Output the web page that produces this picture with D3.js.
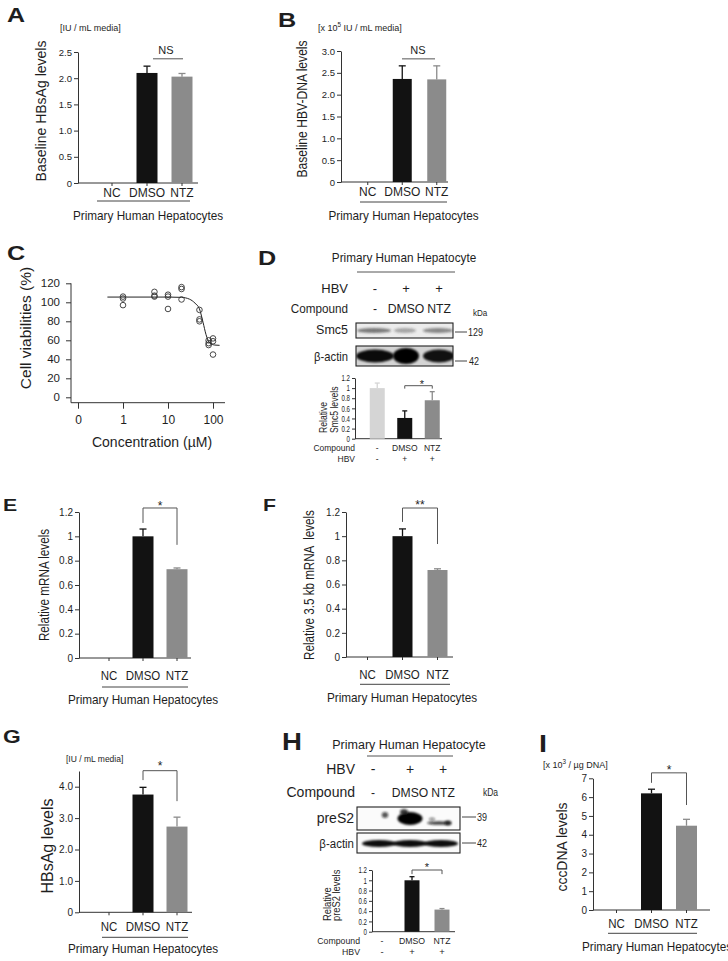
<!DOCTYPE html>
<html><head><meta charset="utf-8">
<script src="https://cdn.jsdelivr.net/npm/d3@7"></script>
<style>
body{margin:0;background:#fff}
svg text{font-family:"Liberation Sans",Arial,Helvetica,sans-serif;fill:#1e1e1e}
</style>
</head><body>
<svg id="fig" width="728" height="961"></svg>
<script>
// ---------------- DATA ----------------
const groups = ["NC", "DMSO", "NTZ"];
const hbsagBaseline = [0, 2.10, 2.03];
const hbsagBaselineErr = [0, 0.13, 0.06];
const hbvDnaBaseline = [0, 2.36, 2.35];
const hbvDnaBaselineErr = [0, 0.30, 0.31];
const concentrations = [1, 5, 10, 20, 50, 80, 100];
const viabilityReplicates = [[106, 104, 97], [111, 107, 106], [108, 106, 93], [116, 114, 103], [92, 82, 80], [60, 57, 55], [62, 59, 45]];
const fitConc = [0.45, 10, 20, 30, 40, 50, 60, 70, 85, 110, 140];
const fitViability = [105.5, 105.5, 105.2, 103.3, 99, 93, 79, 66, 57, 55, 54.7];
const concTicks = [0.1, 1, 10, 100];
const concTickLabels = ["0", "1", "10", "100"];
const viabilityTicks = [0, 20, 40, 60, 80, 100, 120];
const compoundLanes = ["-", "DMSO", "NTZ"];
const hbvLanes = ["-", "+", "+"];
const smc5Rel = [1.0, 0.41, 0.76];
const smc5RelErr = [0.10, 0.14, 0.17];
const smc5Band = [0.62, 0.38, 0.55];
const actinBandD = [0.95, 1.0, 0.92];
const mrnaRel = [0, 1.0, 0.73];
const mrnaRelErr = [0, 0.06, 0.01];
const pgrnaRel = [0, 1.0, 0.72];
const pgrnaRelErr = [0, 0.06, 0.01];
const hbsag = [0, 3.75, 2.73];
const hbsagErr = [0, 0.23, 0.30];
const preS2Rel = [0, 1.0, 0.43];
const preS2RelErr = [0, 0.07, 0.02];
const preS2Band = [0.7, 1.0, 0.8];
const actinBandH = [0.95, 0.95, 0.95];
const cccdna = [0, 6.2, 4.48];
const cccdnaErr = [0, 0.22, 0.34];
const relTicks = [0, 0.2, 0.4, 0.6, 0.8, 1, 1.2];

// ---------------- HELPERS ----------------
const svg = d3.select("#fig");
const defs = svg.append("defs");
function addBlur(id, sd) {
  defs.append("filter").attr("id", id).attr("x", "-50%").attr("y", "-80%").attr("width", "200%").attr("height", "260%")
    .append("feGaussianBlur").attr("stdDeviation", sd);
}
addBlur("blur1", 1.2); addBlur("blur2", 2.0);

function txt(x, y, s, o = {}) {
  let tr = `translate(${x},${y})`;
  if (o.rot) tr += ` rotate(${o.rot})`;
  if (o.sx && o.sx !== 1) tr += ` scale(${o.sx},1)`;
  const t = svg.append("text").attr("transform", tr)
    .attr("text-anchor", o.anchor || "middle")
    .attr("font-size", o.size || 12);
  if (o.weight) t.attr("font-weight", o.weight);
  if (o.pre) t.style("white-space", "pre");
  t.text(s);
  return t;
}
function unitText(x, y, parts, size) {
  const t = svg.append("text").attr("x", x).attr("y", y).attr("font-size", size).attr("text-anchor", "start");
  parts.forEach(p => {
    const ts = t.append("tspan").text(p.t);
    if (p.sup) ts.attr("font-size", size * 0.7).attr("dy", -size * 0.4);
    if (p.down) ts.attr("dy", size * 0.4);
  });
}
function line(x1, y1, x2, y2, col = "#333", w = 1) {
  svg.append("line").attr("x1", x1).attr("y1", y1).attr("x2", x2).attr("y2", y2).attr("stroke", col).attr("stroke-width", w);
}
const fmt1 = d => d === 0 ? "0" : d3.format(".1f")(d);
const fmtRel = d => String(+d.toFixed(1));

function barChart(o) {
  const g = svg.append("g");
  const step = (o.band[1] - o.band[0]) / o.cats.length;
  const pad = 1 - o.bw / step;
  const x = d3.scaleBand().domain(o.cats).range(o.band).paddingInner(pad).paddingOuter(pad / 2);
  const y = d3.scaleLinear().domain(o.yDomain).range(o.yRange);
  const tl = o.tickLen || 4, tp = o.tickPad || 2;
  const yg = g.append("g").attr("transform", `translate(${o.axisX},0)`)
    .call(d3.axisLeft(y).tickValues(o.yTicks).tickFormat(o.fmt).tickSize(tl).tickSizeOuter(0).tickPadding(tp));
  yg.select(".domain").attr("stroke", "#333");
  yg.selectAll(".tick line").attr("stroke", "#333");
  yg.selectAll(".tick text").attr("font-size", o.tickFont).attr("fill", "#222");
  if (o.tickSx) {
    yg.selectAll(".tick text").each(function () {
      const t = d3.select(this); const xx = +t.attr("x");
      t.attr("x", null).attr("transform", `translate(${xx},0) scale(${o.tickSx},1)`);
    });
  }
  const y0 = y(0);
  g.append("line").attr("x1", o.axisX).attr("x2", o.xEnd).attr("y1", y0).attr("y2", y0).attr("stroke", "#333");
  const cx = c => x(c) + x.bandwidth() / 2;
  if (o.catTicks) {
    o.cats.forEach(c => g.append("line").attr("x1", cx(c)).attr("x2", cx(c)).attr("y1", y0).attr("y2", y0 + 3).attr("stroke", "#333"));
  }
  const rows = o.cats.map((c, i) => ({ c, v: o.vals[i], e: o.errs[i], col: o.colors[i] }));
  g.selectAll("rect.bar").data(rows.filter(d => d.v > 0)).join("rect").attr("class", "bar")
    .attr("x", d => x(d.c)).attr("width", x.bandwidth())
    .attr("y", d => y(d.v)).attr("height", d => y0 - y(d.v)).attr("fill", d => d.col);
  const cap = o.cap || 7;
  rows.filter(d => d.e > 0).forEach(d => {
    const c = cx(d.c);
    g.append("line").attr("x1", c).attr("x2", c).attr("y1", y(d.v)).attr("y2", y(d.v + d.e)).attr("stroke", d.col).attr("stroke-width", 1.3);
    g.append("line").attr("x1", c - cap / 2).attr("x2", c + cap / 2).attr("y1", y(d.v + d.e)).attr("y2", y(d.v + d.e)).attr("stroke", d.col).attr("stroke-width", 1.3);
  });
  return { x, y, cx };
}
function bracket(ch, c1, c2, top, left, right, label, lx, ly, size) {
  const x1 = ch.cx(c1), x2 = ch.cx(c2);
  svg.append("path").attr("fill", "none").attr("stroke", "#555").attr("stroke-width", 1)
    .attr("d", `M${x1},${ch.y(left)}V${ch.y(top)}H${x2}V${ch.y(right)}`);
  txt(lx, ly, label, { size: size || 12 });
}
function catLabels(ch, cats, baseY, size, sx, ul, ulY, pX, pY) {
  cats.forEach(c => txt(ch.cx(c), baseY, c, { size, sx }));
  line(ul[0], ulY, ul[1], ulY, "#444");
  txt(pX, pY, "Primary Human Hepatocytes", { size: 12, sx: 0.98 });
}
let clipN = 0;
function blotBox(x0, y0, x1, y1, bg, bands) {
  const id = "clip" + (clipN++);
  defs.append("clipPath").attr("id", id).append("rect").attr("x", x0).attr("y", y0).attr("width", x1 - x0).attr("height", y1 - y0);
  svg.append("rect").attr("x", x0).attr("y", y0).attr("width", x1 - x0).attr("height", y1 - y0).attr("fill", bg);
  const gb = svg.append("g").attr("clip-path", `url(#${id})`);
  bands.forEach(b => gb.append("ellipse").attr("cx", b.cx).attr("cy", b.cy).attr("rx", b.rx).attr("ry", b.ry)
    .attr("fill", b.fill || "#111").attr("fill-opacity", b.op).attr("filter", `url(#${b.f || "blur1"})`));
  svg.append("rect").attr("x", x0).attr("y", y0).attr("width", x1 - x0).attr("height", y1 - y0)
    .attr("fill", "none").attr("stroke", "#222").attr("stroke-width", 1.1);
}

const BLACK = "#121212", GRAY = "#8b8b8b", LIGHT = "#d5d5d5";
const barCols = [BLACK, BLACK, GRAY];

// ---------------- PANEL A ----------------
txt(7, 22, "A", { size: 20, weight: "bold", anchor: "start", sx: 1.25 });
unitText(60, 31, [{ t: "[IU / mL media]" }], 9);
const chA = barChart({ cats: groups, vals: hbsagBaseline, errs: hbsagBaselineErr, colors: barCols,
  band: [94.5, 199.5], bw: 21, axisX: 78, xEnd: 198, yDomain: [0, 2.5], yRange: [183, 52],
  yTicks: [0, 0.5, 1, 1.5, 2, 2.5], fmt: fmt1, tickFont: 9.5, catTicks: true });
txt(46, 111, "Baseline HBsAg levels", { size: 14, rot: -90 });
line(153, chA.y(2.37), 183, chA.y(2.37), "#555");
txt(166, 53.5, "NS", { size: 11 });
catLabels(chA, groups, 196.5, 12, 1, [97, 190], 201, 148, 219.5);

// ---------------- PANEL B ----------------
txt(278, 27, "B", { size: 21, weight: "bold", anchor: "start", sx: 1.2 });
unitText(318, 31, [{ t: "[x 10" }, { t: "5", sup: true }, { t: " IU / mL media]", down: true }], 9);
const chB = barChart({ cats: groups, vals: hbvDnaBaseline, errs: hbvDnaBaselineErr, colors: barCols,
  band: [350.5, 454], bw: 19, axisX: 341, xEnd: 448, yDomain: [0, 3], yRange: [182, 51],
  yTicks: [0, 0.5, 1, 1.5, 2, 2.5, 3], fmt: fmt1, tickFont: 9.5, catTicks: true });
txt(306.5, 109, "Baseline HBV-DNA levels", { size: 14, rot: -90, sx: 0.865 });
line(402, chB.y(2.82), 435, chB.y(2.82), "#555");
txt(418, 53.5, "NS", { size: 11 });
catLabels(chB, groups, 196, 12, 1, [360, 447], 202, 403.5, 219.5);

// ---------------- PANEL C ----------------
txt(7, 260, "C", { size: 21, weight: "bold", anchor: "start", sx: 1.2 });
const xC = d3.scaleLog().domain([0.1, 100]).range([78, 213]);
const yC = d3.scaleLinear().domain([0, 120]).range([397.3, 283.3]);
const axisYC = 402.7;
const ycg = svg.append("g").attr("transform", "translate(71,0)")
  .call(d3.axisLeft(yC).tickValues(viabilityTicks).tickSize(5).tickPadding(6));
ycg.select(".domain").remove();
ycg.selectAll(".tick line").attr("stroke", "#333");
ycg.selectAll(".tick text").attr("font-size", 11.5).attr("fill", "#222");
line(71, 283.3, 71, axisYC);
line(71, axisYC, 225, axisYC);
const xcg = svg.append("g").attr("transform", `translate(0,${axisYC})`)
  .call(d3.axisBottom(xC).tickValues(concTicks).tickFormat((d, i) => concTickLabels[i]).tickSize(6).tickPadding(7));
xcg.select(".domain").remove();
xcg.selectAll(".tick line").attr("stroke", "#333");
xcg.selectAll(".tick text").attr("font-size", 12).attr("fill", "#222");
svg.append("path").datum(fitConc.map((c, i) => [c, fitViability[i]]))
  .attr("fill", "none").attr("stroke", "#222").attr("stroke-width", 1)
  .attr("d", d3.line().x(d => xC(d[0])).y(d => yC(d[1])).curve(d3.curveMonotoneX));
const pts = [];
concentrations.forEach((c, i) => viabilityReplicates[i].forEach(v => pts.push([c, v])));
svg.selectAll("circle.pt").data(pts).join("circle").attr("class", "pt")
  .attr("cx", d => xC(d[0])).attr("cy", d => yC(d[1])).attr("r", 2.8)
  .attr("fill", "none").attr("stroke", "#333").attr("stroke-width", 0.9);
txt(31, 328, "Cell viabilities (%)", { size: 15.5, rot: -90 });
txt(152, 447, "Concentration (µM)", { size: 14 });

// ---------------- PANEL D ----------------
txt(258, 265, "D", { size: 21, weight: "bold", anchor: "start", sx: 1.2 });
txt(404, 262.3, "Primary Human Hepatocyte", { size: 12, sx: 0.98 });
line(357, 272, 455, 272, "#555");
const lanesD = [375, 406, 439];
txt(348, 292.5, "HBV", { size: 13, anchor: "end" });
txt(348, 312.5, "Compound", { size: 13, anchor: "end", sx: 0.9 });
hbvLanes.forEach((s, i) => txt(lanesD[i], 292.5, s, { size: 13 }));
compoundLanes.forEach((s, i) => txt(lanesD[i], 312.5, s, { size: 13, sx: 0.94 }));
txt(473, 316, "kDa", { size: 9.5, anchor: "start", sx: 0.85 });
txt(348, 334, "Smc5", { size: 12.5, anchor: "end" });
txt(348, 361, "β-actin", { size: 12.5, anchor: "end", sx: 0.9 });
blotBox(356, 323, 453, 338, "#ececec", smc5Band.map((op, i) => ({ cx: lanesD[i] - 1, cy: 330.5, rx: [17, 11, 15][i], ry: 2.6, op, fill: "#333" })));
blotBox(356, 346, 453, 366, "#d4d4d4", actinBandD.map((op, i) => ({ cx: lanesD[i], cy: 356, rx: [19, 13, 16][i], ry: [6.5, 8, 6.5][i], op, fill: "#050505" })));
line(455, 332, 467, 332, "#444"); txt(468, 335.5, "129", { size: 10, anchor: "start", sx: 0.9 });
line(455, 361, 467, 361, "#444"); txt(469, 364.5, "42", { size: 10, anchor: "start", sx: 0.9 });
const chD = barChart({ cats: [0, 1, 2], vals: smc5Rel, errs: smc5RelErr, colors: [LIGHT, BLACK, GRAY],
  band: [363.5, 446], bw: 15, axisX: 355, xEnd: 442, yDomain: [0, 1.2], yRange: [438.7, 378],
  yTicks: relTicks, fmt: fmtRel, tickFont: 8.5, tickSx: 0.72, tickLen: 3, cap: 5 });
txt(326.5, 433, "Relative", { size: 11.5, rot: -90, anchor: "start", sx: 0.75 });
txt(337.5, 433, "Smc5 levels", { size: 11.5, rot: -90, anchor: "start", sx: 0.75 });
bracket(chD, 1, 2, 1.048, 0.99, 0.99, "*", 422, 388, 11);
txt(355, 451, "Compound", { size: 8.5, anchor: "end" });
txt(355, 461.5, "HBV", { size: 8.5, anchor: "end" });
compoundLanes.forEach((s, i) => txt(chD.cx(i), 451, s, { size: 8.5 }));
hbvLanes.forEach((s, i) => txt(chD.cx(i), 461.5, s, { size: 8.5 }));

// ---------------- PANEL E ----------------
txt(3, 511, "E", { size: 17, weight: "bold", anchor: "start", sx: 1.25 });
const chE = barChart({ cats: groups, vals: mrnaRel, errs: mrnaRelErr, colors: barCols,
  band: [92, 194], bw: 21, axisX: 79, xEnd: 191, yDomain: [0, 1.2], yRange: [658, 512],
  yTicks: relTicks, fmt: fmtRel, tickFont: 10, catTicks: true });
txt(49, 585, "Relative mRNA levels", { size: 14, rot: -90, sx: 0.835 });
bracket(chE, "DMSO", "NTZ", 1.233, 1.11, 0.93, "*", 160, 510, 12);
catLabels(chE, groups, 680, 12.5, 0.92, [102, 188], 687, 143, 703.5);

// ---------------- PANEL F ----------------
txt(263, 511, "F", { size: 17, weight: "bold", anchor: "start", sx: 1.25 });
const chF = barChart({ cats: groups, vals: pgrnaRel, errs: pgrnaRelErr, colors: barCols,
  band: [350, 455], bw: 20, axisX: 346, xEnd: 453, yDomain: [0, 1.2], yRange: [657, 512],
  yTicks: relTicks, fmt: fmtRel, tickFont: 10, catTicks: true });
txt(314, 585, "Relative 3.5 kb mRNA  levels", { size: 14, rot: -90, sx: 0.83, pre: true });
bracket(chF, "DMSO", "NTZ", 1.233, 1.118, 0.935, "**", 420, 509, 12);
catLabels(chF, groups, 678.5, 12.5, 0.92, [360, 450], 684.3, 402, 702);

// ---------------- PANEL G ----------------
txt(3, 743, "G", { size: 19, weight: "bold", anchor: "start", sx: 1.2 });
unitText(66, 762, [{ t: "[IU / mL media]" }], 8.5);
const chG = barChart({ cats: groups, vals: hbsag, errs: hbsagErr, colors: barCols,
  band: [92, 194], bw: 21, axisX: 79, xEnd: 192, yDomain: [0, 4.5], yRange: [912.3, 771],
  yTicks: [0, 1, 2, 3, 4], fmt: fmt1, tickFont: 10, catTicks: true });
txt(53, 846, "HBsAg levels", { size: 16, rot: -90 });
bracket(chG, "DMSO", "NTZ", 4.51, 4.21, 3.54, "*", 160, 770, 12);
catLabels(chG, groups, 931, 12.5, 0.92, [102, 188], 937.3, 143, 952.5);

// ---------------- PANEL H ----------------
txt(282, 750, "H", { size: 24, weight: "bold", anchor: "start", sx: 1.15 });
txt(409, 748.5, "Primary Human Hepatocyte", { size: 12.5 });
line(367, 756, 453, 756, "#555");
const lanesH = [373, 410, 443];
txt(355, 774, "HBV", { size: 14, anchor: "end" });
txt(355, 797, "Compound", { size: 14, anchor: "end" });
hbvLanes.forEach((s, i) => txt(lanesH[i], 774, s, { size: 14 }));
compoundLanes.forEach((s, i) => txt(lanesH[i], 797, s, { size: 13.5, sx: 0.9 }));
txt(483, 796, "kDa", { size: 10, anchor: "start", sx: 0.85 });
txt(354, 823, "preS2", { size: 14, anchor: "end" });
txt(354, 848, "β-actin", { size: 13.5, anchor: "end", sx: 0.85 });
blotBox(357, 807, 460, 830, "#fbfbfb", [
  { cx: 385, cy: 815, rx: 3.2, ry: 3, op: preS2Band[0] },
  { cx: 410, cy: 818.5, rx: 12.5, ry: 6.5, op: preS2Band[1], fill: "#000" },
  { cx: 404, cy: 812, rx: 4, ry: 3, op: preS2Band[1] * 0.8 },
  { cx: 439, cy: 823, rx: 12, ry: 1.8, op: preS2Band[2] },
  { cx: 448, cy: 823, rx: 3.5, ry: 2.5, op: preS2Band[2] },
  { cx: 432, cy: 819, rx: 3, ry: 1.5, op: preS2Band[2] * 0.6 }
]);
blotBox(357, 833, 460, 853, "#fbfbfb", actinBandH.map((op, i) => ({ cx: [379, 410, 441][i], cy: 843.5, rx: 17, ry: 3.6, op, fill: "#000" })));
line(462, 817, 476, 817, "#444"); txt(477, 820.5, "39", { size: 10, anchor: "start", sx: 0.9 });
line(462, 843, 476, 843, "#444"); txt(477, 846.5, "42", { size: 10, anchor: "start", sx: 0.9 });
const chH = barChart({ cats: [0, 1, 2], vals: preS2Rel, errs: preS2RelErr, colors: [LIGHT, BLACK, GRAY],
  band: [367, 457], bw: 15, axisX: 372, xEnd: 455, yDomain: [0, 1.2], yRange: [931.7, 870],
  yTicks: relTicks, fmt: fmtRel, tickFont: 8.5, tickSx: 0.72, tickLen: 3, cap: 5 });
txt(331, 921, "Relative", { size: 11, rot: -90, anchor: "start", sx: 0.85 });
txt(340, 921, "preS2 levels", { size: 11, rot: -90, anchor: "start", sx: 0.85 });
bracket(chH, 1, 2, 1.2, 1.12, 1.12, "*", 427, 871, 11);
txt(360, 944, "Compound", { size: 9.5, anchor: "end", sx: 0.92 });
txt(360, 955, "HBV", { size: 9.5, anchor: "end", sx: 0.92 });
compoundLanes.forEach((s, i) => txt(chH.cx(i), 944, s, { size: 9.5, sx: 0.92 }));
hbvLanes.forEach((s, i) => txt(chH.cx(i), 955, s, { size: 9.5 }));

// ---------------- PANEL I ----------------
txt(539, 752, "I", { size: 24, weight: "bold", anchor: "start", sx: 1.2 });
unitText(543, 768, [{ t: "[x 10" }, { t: "3", sup: true }, { t: " / µg DNA]", down: true }], 9);
const chI = barChart({ cats: groups, vals: cccdna, errs: cccdnaErr, colors: barCols,
  band: [599, 704], bw: 21, axisX: 593, xEnd: 710, yDomain: [0, 7], yRange: [910, 778.3],
  yTicks: [0, 1, 2, 3, 4, 5, 6, 7], fmt: d3.format("d"), tickFont: 10, catTicks: true });
txt(567, 847, "cccDNA levels", { size: 15, rot: -90, sx: 0.93 });
bracket(chI, "DMSO", "NTZ", 7.29, 6.76, 5.58, "*", 669, 774, 12);
catLabels(chI, groups, 927.5, 12.5, 0.92, [608, 697], 933.3, 657, 951);
</script>
</body></html>
